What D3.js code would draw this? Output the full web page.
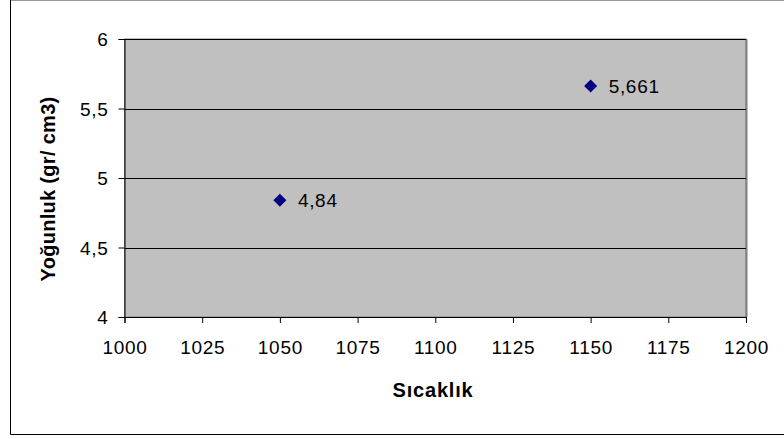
<!DOCTYPE html>
<html><head><meta charset="utf-8">
<script src="https://cdn.jsdelivr.net/npm/d3@7"></script>
<style>body{margin:0;background:#fff}svg{display:block}text{font-family:Arial,"Liberation Sans",sans-serif}</style>
</head><body>
<svg id="c" width="784" height="439"></svg>
<script>
const xValues = [1050, 1150];
const yValues = [4.84, 5.661];
const pointLabels = ["4,84", "5,661"];
const xTicks = [1000, 1025, 1050, 1075, 1100, 1125, 1150, 1175, 1200];
const yTicks = [4, 4.5, 5, 5.5, 6];
const xTitle = "Sıcaklık";
const yTitle = "Yoğunluk (gr/ cm3)";

const svg = d3.select("#c");
const L = 124.5, R = 746, T = 39, B = 317;
const x = d3.scaleLinear().domain([1000, 1200]).range([L, R]);
const y = d3.scaleLinear().domain([4, 6]).range([B, T]);
const fmt = v => String(v).replace(".", ",");
const FS = 19;

// outer frame
svg.append("line").attr("x1", 10.5).attr("x2", 784).attr("y1", 0.5).attr("y2", 0.5).attr("stroke", "#999");
svg.append("line").attr("x1", 10.5).attr("x2", 10.5).attr("y1", 0).attr("y2", 434.5).attr("stroke", "#000");
svg.append("line").attr("x1", 10.5).attr("x2", 784).attr("y1", 434.5).attr("y2", 434.5).attr("stroke", "#000");

// plot area
svg.append("rect").attr("x", L).attr("y", T).attr("width", R - L).attr("height", B - T)
  .attr("fill", "#c0c0c0").attr("stroke", "#808080").attr("stroke-width", 1);
svg.append("line").attr("x1", R + 0.5).attr("x2", R + 0.5).attr("y1", T).attr("y2", B).attr("stroke", "#808080").attr("stroke-width", 2);

// gridlines
svg.append("g").selectAll("line").data(yTicks.filter(d => d > 4)).join("line")
  .attr("x1", L).attr("x2", R).attr("y1", d => Math.round(y(d)) + 0.5).attr("y2", d => Math.round(y(d)) + 0.5)
  .attr("stroke", "#000");

// axes
const xAxis = d3.axisBottom(x).tickValues(xTicks).tickSize(6).tickPadding(0).tickFormat(d => d);
const gx = svg.append("g").attr("transform", `translate(0,${B})`).call(xAxis);
gx.selectAll(".tick text").attr("dy", null).attr("y", 37);
const yAxis = d3.axisLeft(y).tickValues(yTicks).tickSize(6).tickPadding(10).tickFormat(fmt);
const gy = svg.append("g").attr("transform", `translate(${L},0)`).call(yAxis);
gy.selectAll(".tick text").attr("dy", "0.36em");
[gx, gy].forEach(g => {
  g.select(".domain").attr("stroke", "#000");
  g.selectAll(".tick line").attr("stroke", "#000");
  g.selectAll("text").attr("font-size", FS).attr("letter-spacing", 0.7).attr("fill", "#000").attr("font-family", "Arial, 'Liberation Sans', sans-serif");
});

// points (square diamonds)
const half = 6.5;
const diamond = `M0,${-half}L${half},0L0,${half}L${-half},0Z`;
svg.append("g").selectAll("path").data(xValues).join("path")
  .attr("d", diamond).attr("transform", (d, i) => `translate(${x(d)},${y(yValues[i])})`)
  .attr("fill", "#000080");
svg.append("g").selectAll("text").data(xValues).join("text")
  .attr("x", d => x(d) + 18).attr("y", (d, i) => y(yValues[i]) + 7)
  .attr("font-size", FS).attr("letter-spacing", 0.7).attr("fill", "#000").text((d, i) => pointLabels[i]);

// titles
svg.append("text").attr("x", 433).attr("y", 397).attr("text-anchor", "middle")
  .attr("font-size", 20).attr("letter-spacing", 0.8).attr("font-weight", "bold").text(xTitle);
svg.append("text").attr("transform", `translate(55,189) rotate(-90)`).attr("text-anchor", "middle")
  .attr("font-size", 20).attr("letter-spacing", 0.3).attr("font-weight", "bold").text(yTitle);
</script>
</body></html>
